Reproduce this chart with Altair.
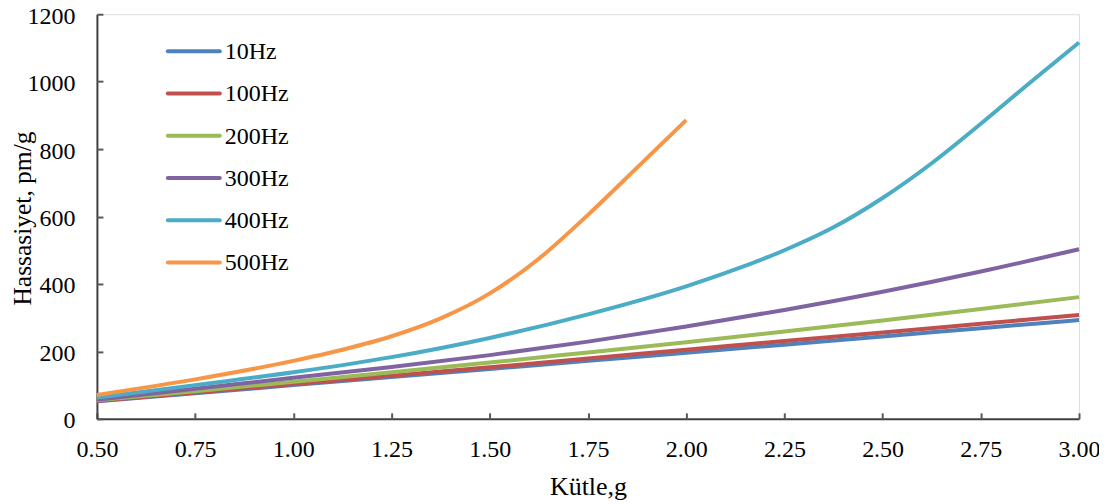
import altair as alt
import pandas as pd

# ---- data ----
mass = [0.5, 0.75, 1.0, 1.25, 1.5, 1.75, 2.0, 2.25, 2.5, 2.75, 3.0]
hz10 = [52, 76, 100, 124, 148, 172, 196, 220, 244, 269, 293]
hz100 = [53, 78, 103, 128, 153, 179, 205, 231, 256, 282, 308]
hz200 = [55, 82, 110, 138, 167, 197, 227, 259, 292, 326, 361]
hz300 = [57, 89, 122, 154, 189, 229, 274, 323, 377, 437, 503]
mass400 = [0.5, 0.75, 1.0, 1.25, 1.5, 1.75, 2.0, 2.125, 2.25, 2.375, 2.5, 2.625, 2.75, 2.875, 3.0]
hz400 = [63, 100, 138, 183, 240, 310, 393, 443, 500, 568, 655, 758, 875, 997, 1116]
mass500 = [0.5, 0.75, 1.0, 1.125, 1.25, 1.375, 1.5, 1.625, 1.75, 1.875, 2.0]
hz500 = [71, 117, 172, 205, 245, 298, 372, 475, 605, 745, 886]

series_names = ["10Hz", "100Hz", "200Hz", "300Hz", "400Hz", "500Hz"]
series_colors = ["#4F81BD", "#C0504D", "#9BBB59", "#8064A2", "#4BACC6", "#F79646"]
x_ticks = [0.5, 0.75, 1.0, 1.25, 1.5, 1.75, 2.0, 2.25, 2.5, 2.75, 3.0]
y_ticks = [0, 200, 400, 600, 800, 1000, 1200]

rows = []
for name, xs, ys in [
    ("10Hz", mass, hz10),
    ("100Hz", mass, hz100),
    ("200Hz", mass, hz200),
    ("300Hz", mass, hz300),
    ("400Hz", mass400, hz400),
    ("500Hz", mass500, hz500),
]:
    for xv, yv in zip(xs, ys):
        rows.append({"series": name, "mass": xv, "value": yv})
df = pd.DataFrame(rows)
df_leg = pd.DataFrame({"series": series_names})

FONT = "Liberation Serif"
W, H = 983, 405

xscale = alt.Scale(domain=[0.5, 3.0], nice=False, zero=False)
yscale = alt.Scale(domain=[0, 1200], nice=False, zero=True)
color = alt.Color("series:N", scale=alt.Scale(domain=series_names, range=series_colors), legend=None)

lines = alt.Chart(df).mark_line(strokeWidth=4, interpolate="monotone").encode(
    x=alt.X("mass:Q", scale=xscale, axis=alt.Axis(
        values=x_ticks, format=".2f", title="Kütle,g", ticks=False, tickSize=0,
        labelPadding=38, labelBaseline="alphabetic", labelFontSize=24, labelFont=FONT,
        labelColor="#000000", labelFlush=False,
        titleFont=FONT, titleFontSize=26, titleFontWeight="normal", titleColor="#000000",
        titleX=W / 2, titleY=76, titleBaseline="alphabetic", titleAlign="center",
        domainColor="#404040", domainWidth=2, grid=False)),
    y=alt.Y("value:Q", scale=yscale, axis=alt.Axis(
        values=y_ticks, format="d", title="Hassasiyet, pm/g", ticks=False, tickSize=0,
        labelPadding=22, labelFontSize=24, labelFont=FONT, labelColor="#000000",
        labelFlush=False, labelOffset=2,
        titleFont=FONT, titleFontSize=25.5, titleFontWeight="normal", titleColor="#000000",
        titleAngle=270, titleX=-66, titleY=204, titleBaseline="alphabetic", titleAlign="center",
        domainColor="#404040", domainWidth=2, grid=False)),
    color=color,
    detail="series:N",
)

tick_layer = alt.Chart(df).mark_point(opacity=0).encode(
    x=alt.X("mass:Q", scale=xscale, axis=alt.Axis(
        orient="bottom", offset=-6, values=x_ticks, labels=False, domain=False,
        ticks=True, tickSize=6, tickWidth=2, tickColor="#595959", title="", grid=False)),
    y=alt.Y("value:Q", scale=yscale, axis=alt.Axis(
        orient="left", offset=-6, values=y_ticks, labels=False, domain=False,
        ticks=True, tickSize=6, tickWidth=2, tickColor="#595959", title="", grid=False)),
)

leg_y = alt.Y("series:N", scale=alt.Scale(type="point", domain=series_names,
                                          range=[37, 248.5], padding=0), axis=None)

leg_lines = alt.Chart(df_leg).mark_rule(strokeWidth=4, strokeCap="round").encode(
    x=alt.value(71), x2=alt.value(123), y=leg_y, color=color,
)
leg_text = alt.Chart(df_leg).mark_text(
    align="left", baseline="middle", font=FONT, fontSize=24, color="#000000", dy=1
).encode(x=alt.value(128), y=leg_y, text="series:N")

chart = alt.layer(lines, tick_layer, leg_lines, leg_text).resolve_scale(
    y="independent"
).resolve_axis(
    x="independent", y="independent"
).properties(
    width=W, height=H,
    autosize=alt.AutoSizeParams(type="none"),
    padding={"left": 89, "top": 6, "right": 20, "bottom": 85},
).configure_view(
    stroke="#898989", strokeWidth=2
).configure(background="white")

chart.save("out.html", embed_options={"renderer": "svg", "actions": False})
